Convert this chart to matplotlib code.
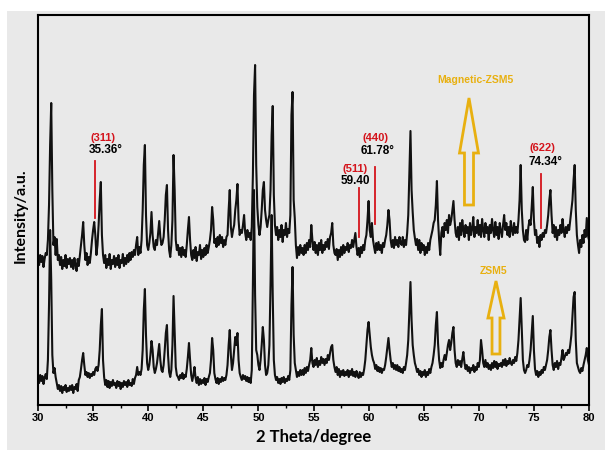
import numpy as np
import matplotlib.pyplot as plt
from matplotlib.patches import Polygon, Rectangle

# XRD patterns, 0.1 degree steps from 30 to 80
two_theta = np.linspace(30, 80, 501)

magnetic_zsm5 = [
    146, 140, 150, 143, 149, 138, 146, 152, 150, 165,  # 30
    200, 260, 302, 215, 160, 168, 150, 166, 145, 150,  # 31
    140, 148, 136, 145, 139, 150, 137, 146, 141, 147,  # 32
    138, 145, 136, 147, 140, 134, 146, 139, 150, 160,  # 33
    170, 183, 160, 145, 152, 140, 148, 142, 152, 165,  # 34
    175, 183, 170, 150, 160, 180, 205, 223, 170, 150,  # 35
    142, 150, 137, 146, 140, 151, 136, 145, 141, 149,  # 36
    138, 147, 140, 150, 137, 145, 142, 151, 139, 147,  # 37
    141, 150, 143, 152, 145, 153, 148, 155, 150, 160,  # 38
    168, 150, 158, 152, 165, 195, 240, 260, 190, 160,  # 39
    155, 162, 172, 193, 170, 158, 155, 165, 160, 172,  # 40
    184, 168, 160, 162, 168, 185, 210, 220, 175, 155,  # 41
    148, 160, 185, 250, 215, 165, 155, 160, 150, 157,  # 42
    148, 158, 150, 155, 148, 160, 175, 188, 165, 150,  # 43
    145, 155, 147, 158, 144, 153, 150, 160, 146, 155,  # 44
    148, 157, 150, 160, 152, 158, 165, 175, 198, 185,  # 45
    162, 166, 158, 168, 160, 170, 162, 168, 158, 165,  # 46
    160, 168, 170, 195, 215, 178, 168, 175, 180, 195,  # 47
    205, 221, 185, 170, 175, 172, 180, 190, 172, 165,  # 48
    175, 168, 172, 165, 178, 230, 310, 340, 240, 198,  # 49
    180, 170, 178, 195, 215, 223, 195, 185, 178, 185,  # 50
    190, 215, 270, 299, 210, 180, 170, 178, 165, 175,  # 51
    168, 180, 163, 175, 170, 182, 168, 176, 172, 190,  # 52
    290, 313, 205, 187, 160, 147, 158, 150, 160, 152,  # 53
    157, 150, 160, 152, 162, 155, 165, 158, 180, 165,  # 54
    155, 163, 152, 160, 150, 162, 155, 165, 152, 160,  # 55
    155, 163, 158, 166, 156, 168, 172, 182, 160, 152,  # 56
    150, 156, 145, 155, 148, 158, 150, 160, 152, 158,  # 57
    155, 162, 153, 160, 157, 165, 158, 165, 172, 158,  # 58
    150, 157, 148, 158, 152, 160, 155, 165, 170, 185,  # 59
    204, 175, 168, 182, 165, 158, 152, 162, 155, 163,  # 60
    155, 160, 152, 162, 158, 165, 170, 180, 195, 185,  # 61
    165, 158, 165, 157, 168, 160, 165, 158, 168, 162,  # 62
    160, 168, 158, 165, 160, 172, 190, 230, 274, 215,  # 63
    193, 175, 167, 160, 166, 155, 165, 152, 162, 155,  # 64
    160, 150, 158, 152, 162, 155, 165, 170, 175, 182,  # 65
    185, 200, 224, 185, 165, 150, 172, 178, 168, 182,  # 66
    175, 185, 172, 190, 180, 185, 195, 204, 185, 172,  # 67
    168, 178, 165, 182, 170, 185, 175, 168, 180, 172,  # 68
    178, 165, 182, 170, 176, 188, 168, 178, 172, 185,  # 69
    170, 180, 168, 186, 175, 168, 182, 172, 178, 165,  # 70
    180, 172, 186, 175, 168, 183, 170, 178, 166, 182,  # 71
    174, 168, 180, 190, 175, 182, 170, 178, 168, 184,  # 72
    175, 170, 182, 172, 178, 172, 185, 205, 240, 195,  # 73
    175, 165, 163, 175, 165, 178, 185, 180, 198, 218,  # 74
    185, 170, 175, 162, 168, 158, 170, 165, 172, 168,  # 75
    175, 172, 180, 190, 205, 215, 190, 172, 180, 168,  # 76
    178, 165, 175, 170, 180, 172, 186, 175, 168, 178,  # 77
    172, 180, 175, 185, 195, 205, 225, 240, 195, 170,  # 78
    160, 152, 165, 158, 170, 162, 175, 168, 187, 170,  # 79
    165,
]

zsm5 = [
    28, 22, 30, 24, 29, 21, 27, 31, 26, 45,  # 30
    100, 175, 125, 50, 32, 37, 28, 22, 16, 20,  # 31
    14, 19, 12, 18, 15, 20, 13, 17, 14, 19,  # 32
    15, 20, 12, 18, 16, 21, 14, 25, 28, 36,  # 33
    45, 52, 40, 30, 33, 28, 32, 27, 31, 29,  # 34
    33, 30, 36, 38, 34, 40, 55, 80, 96, 45,  # 35
    28, 20, 25, 18, 24, 17, 23, 19, 25, 20,  # 36
    22, 17, 24, 19, 23, 16, 22, 18, 24, 20,  # 37
    23, 18, 25, 20, 22, 19, 26, 21, 27, 30,  # 38
    38, 30, 33, 30, 36, 55, 95, 116, 70, 42,  # 39
    35, 40, 50, 64, 55, 38, 32, 36, 42, 52,  # 40
    61, 45, 35, 33, 40, 55, 72, 80, 50, 33,  # 41
    28, 35, 60, 109, 75, 38, 30, 28, 25, 30,  # 42
    27, 32, 26, 30, 28, 36, 48, 62, 45, 30,  # 43
    24, 30, 38, 27, 22, 28, 20, 26, 21, 25,  # 44
    22, 27, 20, 26, 23, 28, 32, 45, 67, 55,  # 45
    32, 26, 22, 27, 21, 26, 23, 28, 24, 27,  # 46
    25, 30, 40, 60, 75, 50, 35, 42, 55, 68,  # 47
    60, 72, 45, 32, 28, 25, 30, 26, 29, 24,  # 48
    28, 23, 27, 22, 35, 120, 215, 110, 55, 50,  # 49
    40, 35, 45, 60, 78, 65, 40, 30, 32, 40,  # 50
    60, 120, 190, 110, 45, 30, 25, 28, 22, 26,  # 51
    21, 27, 23, 28, 22, 26, 24, 29, 25, 35,  # 52
    100, 138, 70, 42, 35, 28, 33, 29, 35, 30,  # 53
    35, 30, 37, 32, 38, 34, 40, 45, 57, 42,  # 54
    38, 45, 40, 47, 38, 44, 40, 48, 42, 46,  # 55
    40, 46, 42, 50, 45, 52, 58, 60, 45, 38,  # 56
    33, 38, 30, 36, 28, 34, 30, 35, 29, 33,  # 57
    30, 35, 28, 34, 30, 36, 29, 33, 28, 34,  # 58
    30, 27, 33, 28, 32, 30, 36, 45, 60, 75,  # 59
    83, 70, 58, 50, 45, 42, 36, 40, 34, 38,  # 60
    33, 37, 32, 36, 35, 40, 48, 58, 67, 55,  # 61
    45, 38, 42, 36, 40, 35, 40, 34, 38, 33,  # 62
    36, 32, 38, 35, 42, 50, 65, 95, 123, 85,  # 63
    60, 50, 42, 38, 33, 36, 30, 34, 28, 33,  # 64
    30, 35, 28, 33, 30, 36, 32, 38, 42, 50,  # 65
    60, 80, 93, 62, 45, 37, 42, 38, 45, 50,  # 66
    45, 52, 60, 65, 55, 62, 72, 78, 55, 42,  # 67
    38, 45, 40, 44, 38, 46, 53, 42, 36, 40,  # 68
    34, 38, 32, 37, 35, 40, 33, 38, 35, 42,  # 69
    38, 45, 65, 55, 42, 38, 45, 38, 42, 36,  # 70
    40, 35, 42, 37, 44, 38, 43, 36, 41, 39,  # 71
    42, 38, 45, 40, 46, 39, 44, 41, 47, 42,  # 72
    40, 45, 42, 48, 44, 52, 65, 85, 107, 75,  # 73
    45, 35, 32, 35, 40, 38, 45, 55, 72, 89,  # 74
    55, 36, 30, 34, 28, 33, 30, 35, 32, 38,  # 75
    35, 40, 45, 55, 68, 75, 55, 40, 35, 42,  # 76
    38, 44, 36, 42, 40, 47, 55, 45, 48, 52,  # 77
    50, 55, 52, 60, 70, 90, 108, 113, 65, 42,  # 78
    38, 34, 32, 37, 34, 40, 45, 50, 57, 45,  # 79
    40,
]

# spinel reflections marked on the magnetic sample
hkl = ['(311)', '(511)', '(440)', '(622)']
angle_text = ['35.36°', '59.40', '61.78°', '74.34°']
marker_theta = [35.15, 59.16, 60.55, 75.6]

bg = '#e9e9e9'
red = '#d4141c'
gold = '#e8b010'

fig = plt.figure(figsize=(6.05, 4.5), dpi=100)
fig.patch.set_facecolor('white')
fig.patches.append(Rectangle((7/605, 0), 1, 1 - 11/450, transform=fig.transFigure,
                             facecolor=bg, edgecolor='none', zorder=-10))
ax = fig.add_axes([38/605, 45/450, 551/605, 390/450])
ax.set_facecolor(bg)

ax.plot(two_theta, magnetic_zsm5, c='#111111', lw=1.5)
ax.plot(two_theta, zsm5, c='#111111', lw=1.5)

# marker lines: (bottom, top) of each red line, then label positions
line_span = [(187, 244), (168, 217), (181, 238), (177, 231)]
hkl_xy = [(35.9, 267), (58.81, 236), (60.67, 267), (75.74, 257)]
ang_xy = [(36.17, 255), (58.77, 224), (60.85, 254), (76.07, 243)]
for i in range(4):
    ax.plot([marker_theta[i]]*2, line_span[i], c=red, lw=1.3)
    ax.text(*hkl_xy[i], hkl[i], color=red, fontsize=8, fontweight='bold',
            family='Liberation Sans', ha='center', va='center')
    ax.text(*ang_xy[i], angle_text[i], color='black', fontsize=8.5, fontweight='bold',
            family='Liberation Sans', ha='center', va='center')

def hollow_arrow(tip_x, tip_y, length, head_len, head_hw, shaft_hw):
    hb = tip_y - head_len
    bot = tip_y - length
    pts = [(tip_x, tip_y), (tip_x + head_hw, hb), (tip_x + shaft_hw, hb),
           (tip_x + shaft_hw, bot), (tip_x - shaft_hw, bot), (tip_x - shaft_hw, hb),
           (tip_x - head_hw, hb)]
    ax.add_patch(Polygon(pts, closed=True, fill=False, edgecolor=gold, lw=2.0,
                         joinstyle='miter'))

hollow_arrow(69.11, 307, 107, 55, 0.86, 0.41)
hollow_arrow(71.56, 124, 73, 37, 0.73, 0.36)
ax.text(69.66, 325, 'Magnetic-ZSM5', color=gold, fontsize=7.5, fontweight='bold',
        family='Liberation Sans', ha='center', va='center')
ax.text(71.38, 134, 'ZSM5', color=gold, fontsize=7.5, fontweight='bold',
        family='Liberation Sans', ha='center', va='center')

ax.set_xlim(30, 80)
ax.set_ylim(0, 390)
ax.set_xticks(np.arange(30, 81, 5))
ax.set_xticks(np.arange(32.5, 80, 5), minor=True)
ax.set_yticks([])
ax.tick_params(axis='x', which='major', direction='out', length=4, width=1.2, pad=1.5,
               labelsize=8)
ax.tick_params(axis='x', which='minor', direction='out', length=2.5, width=1.0)
for lab in ax.get_xticklabels():
    lab.set_fontweight('bold')
    lab.set_family('Liberation Sans')
for s in ax.spines.values():
    s.set_linewidth(1.5)

ax.set_xlabel('2 Theta/degree', family='Lato', fontweight='bold', fontsize=12, va='center')
ax.xaxis.set_label_coords(0.5, -32/390)
ax.set_ylabel('Intensity/a.u.', family='Lato', fontweight='bold', fontsize=11.5, va='center')
ax.yaxis.set_label_coords(-17/551, 0.485)

fig.savefig('out.png', dpi=100, facecolor=fig.get_facecolor())
